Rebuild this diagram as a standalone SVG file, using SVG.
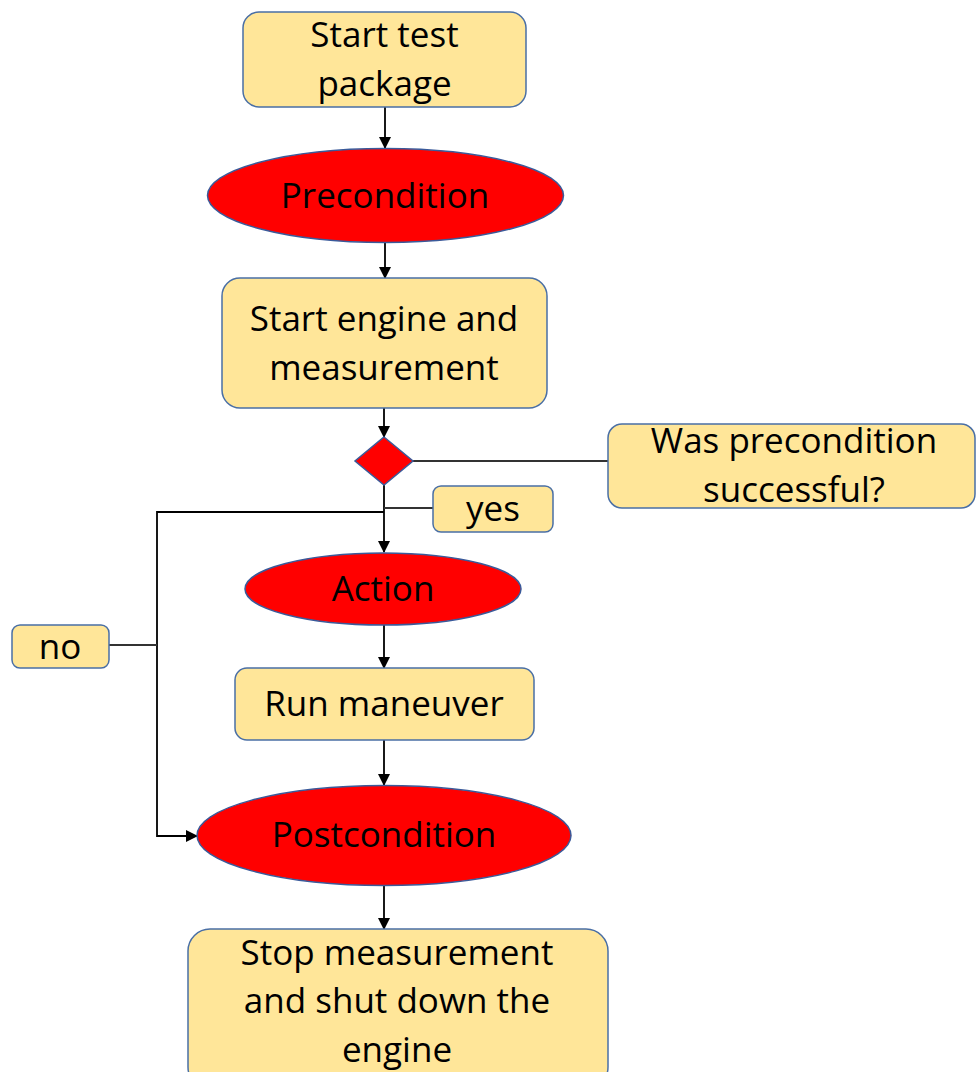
<svg xmlns="http://www.w3.org/2000/svg" width="976" height="1072" viewBox="0 0 976 1072">
<style>
.box{fill:#FFE699;stroke:#4A6FA5;stroke-width:1.5}
.ell{fill:#FF0000;stroke:#3A5A9A;stroke-width:1.5}
.t{font-family:"Open Sans","Liberation Sans",sans-serif;font-size:35px;fill:#000;text-anchor:middle}
.ln{fill:none;stroke:#333;stroke-width:1.8}
.ar{fill:none;stroke:#000;stroke-width:1.8;marker-end:url(#ah)}
</style>
<defs>
<marker id="ah" markerWidth="12" markerHeight="12" refX="11" refY="6" orient="auto" markerUnits="userSpaceOnUse">
<path d="M0,0 L12,6 L0,12 Z" fill="#000"/>
</marker>
</defs>
<rect width="976" height="1072" fill="#fff"/>
<g id="connectors">
<line class="ar" x1="385" y1="107" x2="385" y2="148"/>
<line class="ar" x1="385" y1="243" x2="385" y2="278"/>
<line class="ar" x1="384" y1="408" x2="384" y2="437"/>
<line class="ln" x1="413" y1="461" x2="608" y2="461"/>
<line class="ar" x1="384" y1="485" x2="384" y2="552"/>
<line class="ln" x1="384" y1="508" x2="433" y2="508"/>
<polyline class="ar" points="384,512 157,512 157,836 197,836"/>
<line class="ln" x1="109" y1="645" x2="157" y2="645"/>
<line class="ar" x1="384" y1="625" x2="384" y2="668"/>
<line class="ar" x1="384" y1="740" x2="384" y2="785"/>
<line class="ar" x1="384" y1="886" x2="384" y2="929"/>
</g>
<g id="start">
<rect class="box" x="243" y="12" width="283" height="95" rx="16"/>
<text class="t" x="384.5" y="47">Start test</text>
<text class="t" x="384.5" y="96">package</text>
</g>
<g id="precondition">
<ellipse class="ell" cx="385.5" cy="195.5" rx="178" ry="47"/>
<text class="t" x="385" y="208">Precondition</text>
</g>
<g id="startengine">
<rect class="box" x="222" y="278" width="325" height="130" rx="18"/>
<text class="t" x="384" y="331">Start engine and</text>
<text class="t" x="384" y="380">measurement</text>
</g>
<g id="decision">
<polygon class="ell" points="384,437 413,461 384,485 355,461"/>
</g>
<g id="question">
<rect class="box" x="608" y="424" width="367" height="84" rx="14"/>
<text class="t" x="794" y="453">Was precondition</text>
<text class="t" x="794" y="502">successful?</text>
</g>
<g id="yes">
<rect class="box" x="433" y="486" width="120" height="46" rx="8"/>
<text class="t" x="493" y="521">yes</text>
</g>
<g id="no">
<rect class="box" x="12" y="625" width="97" height="43" rx="8"/>
<text class="t" x="60" y="659">no</text>
</g>
<g id="action">
<ellipse class="ell" cx="383" cy="589" rx="138" ry="36"/>
<text class="t" x="383" y="601">Action</text>
</g>
<g id="run">
<rect class="box" x="235" y="668" width="299" height="72" rx="12"/>
<text class="t" x="384" y="716">Run maneuver</text>
</g>
<g id="postcondition">
<ellipse class="ell" cx="384" cy="835.5" rx="187" ry="50"/>
<text class="t" x="384" y="847">Postcondition</text>
</g>
<g id="stop">
<rect class="box" x="188" y="929" width="420" height="160" rx="22"/>
<text class="t" x="397" y="965">Stop measurement</text>
<text class="t" x="397" y="1013">and shut down the</text>
<text class="t" x="397" y="1062">engine</text>
</g>
</svg>
